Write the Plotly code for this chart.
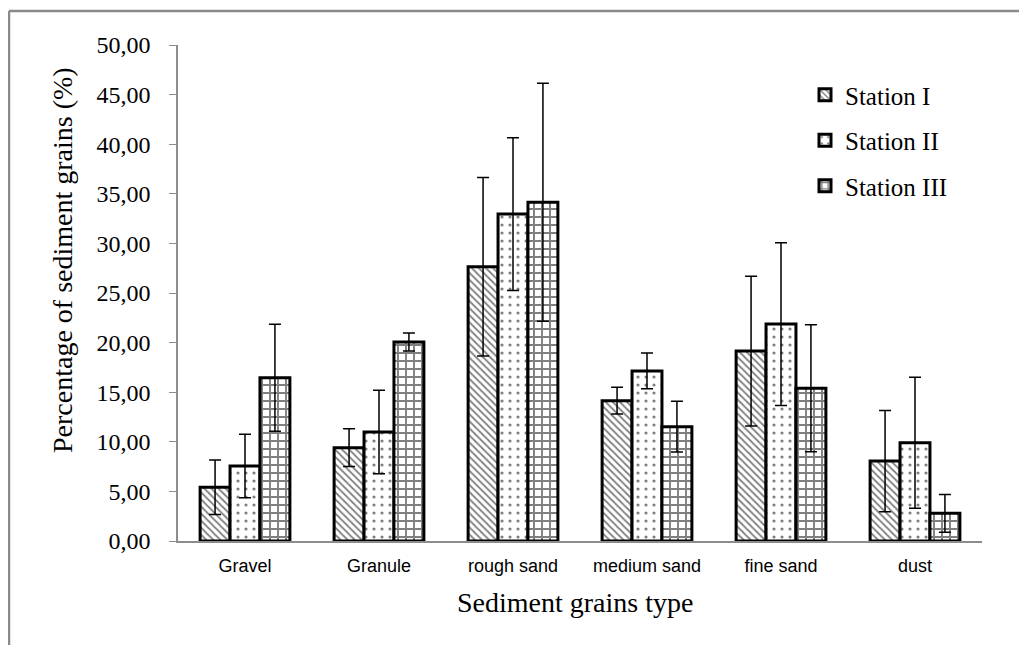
import plotly.graph_objects as go

categories = ["Gravel", "Granule", "rough sand", "medium sand", "fine sand", "dust"]
station_names = ["Station I", "Station II", "Station III"]
station1 = [5.41, 9.41, 27.65, 14.14, 19.15, 8.06]
station1_sd = [2.75, 1.90, 9.00, 1.35, 7.55, 5.10]
station2 = [7.56, 10.99, 32.96, 17.14, 21.87, 9.91]
station2_sd = [3.20, 4.20, 7.70, 1.80, 8.20, 6.60]
station3 = [16.46, 20.06, 34.14, 11.52, 15.39, 2.79]
station3_sd = [5.40, 0.90, 12.00, 2.56, 6.40, 1.90]
y_ticks = [0, 5, 10, 15, 20, 25, 30, 35, 40, 45, 50]

values = [station1, station2, station3]
sds = [station1_sd, station2_sd, station3_sd]
patterns = [dict(shape="\\", size=5, solidity=0.35, fgcolor="black", bgcolor="white"),
            dict(shape=".", size=8, solidity=0.12, fgcolor="black", bgcolor="white"),
            dict(shape="+", size=8, solidity=0.42, fgcolor="black", bgcolor="white")]

fig = go.Figure()
for name, v, sd, pat in zip(station_names, values, sds, patterns):
    fig.add_trace(go.Bar(
        x=categories, y=v, name=name, legendgroup=name,
        marker=dict(color="white", pattern=pat, line=dict(color="black", width=3)),
        error_y=dict(type="data", array=sd, visible=True, color="black", thickness=1.5, width=6),
    ))

OFF = 8  # page body margin
W, H = 1027 - OFF, 645 - OFF
L, T = 178 - OFF, 45 - OFF
R = W - (982 - OFF)
B = H - (541 - OFF)
pw, ph = W - L - R, H - T - B

def px_x(x):
    return (x - OFF - L) / pw

def px_y(y):
    return (H - B - (y - OFF)) / ph

fig.update_layout(
    width=W, height=H,
    margin=dict(l=L, r=R, t=T, b=B),
    paper_bgcolor="white", plot_bgcolor="white",
    separators=",.",
    barmode="group", bargap=0.33, bargroupgap=0,
    font=dict(family="Liberation Serif", color="black"),
    legend=dict(x=px_x(805), y=px_y(72), xanchor="left", yanchor="top",
                font=dict(family="Liberation Serif", size=25, color="black"),
                tracegroupgap=10, bgcolor="rgba(0,0,0,0)", itemwidth=30),
    showlegend=True,
    xaxis=dict(
        tickfont=dict(family="Liberation Sans Narrow, Arial Narrow, Liberation Sans", size=18, color="black"),
        showline=True, linecolor="#8c8c8c", linewidth=1.5, ticks="", showgrid=False,
        ticklabelstandoff=8,
    ),
    yaxis=dict(
        range=[0, 50], tickvals=y_ticks, tickformat=".2f",
        tickfont=dict(family="Liberation Serif", size=24, color="black"),
        showline=True, linecolor="#8c8c8c", linewidth=1.5,
        ticks="outside", ticklen=7, tickcolor="#8c8c8c", showgrid=False, zeroline=False,
        ticklabelstandoff=14,
    ),
    annotations=[
        dict(text="Percentage of sediment grains (%)", xref="paper", yref="paper",
             x=px_x(62), y=px_y(260), xanchor="center", yanchor="middle", textangle=-90,
             showarrow=False, font=dict(family="Liberation Serif", size=28, color="black")),
        dict(text="Sediment grains type", xref="paper", yref="paper",
             x=px_x(575), y=px_y(602), xanchor="center", yanchor="middle",
             showarrow=False, font=dict(family="Liberation Serif", size=28, color="black")),
    ],
    shapes=[
        dict(type="line", xref="paper", yref="paper", x0=px_x(9), x1=px_x(9), y0=px_y(11), y1=px_y(660),
             line=dict(color="#8a8a8a", width=2.5)),
        dict(type="line", xref="paper", yref="paper", x0=px_x(9), x1=px_x(1040), y0=px_y(11), y1=px_y(11),
             line=dict(color="#8a8a8a", width=2.5)),
    ],
)

fig.write_html("out.html")
